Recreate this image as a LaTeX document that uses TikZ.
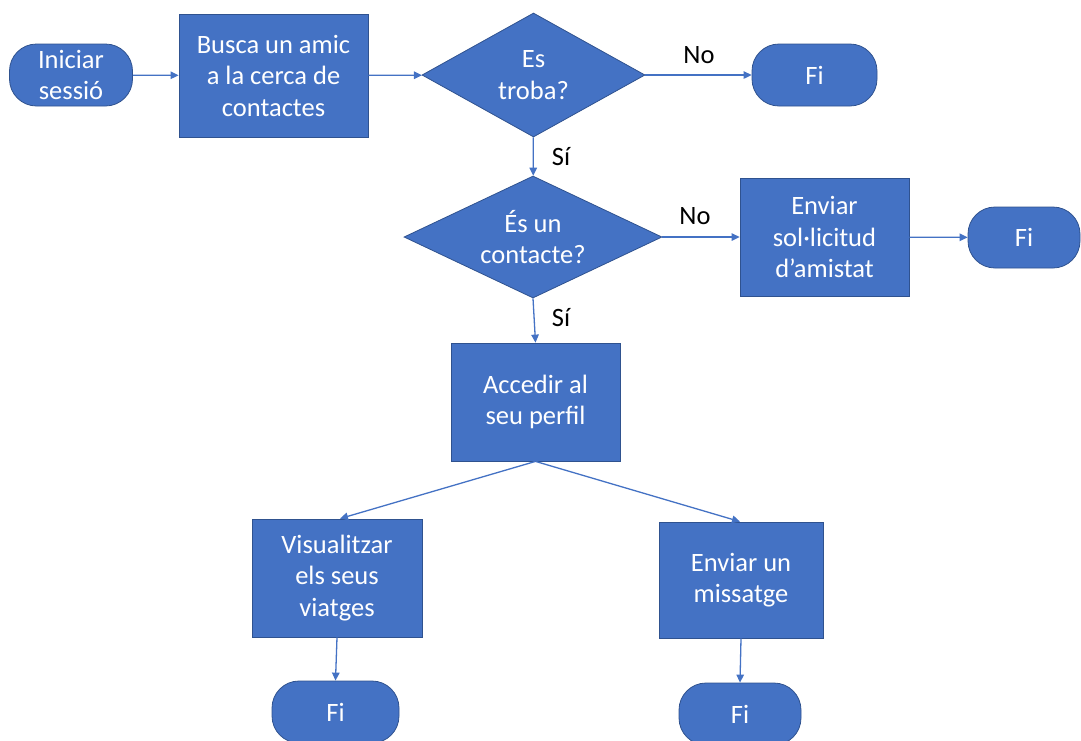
\documentclass[tikz,border=0pt]{standalone}
\usepackage{fontspec}
\setmainfont{Carlito}
\usetikzlibrary{shapes.geometric,arrows.meta}
\definecolor{boxfill}{HTML}{4472C4}
\definecolor{boxline}{HTML}{2F528F}
\definecolor{flow}{HTML}{4472C4}
\begin{document}
\begin{tikzpicture}[x=1pt,y=-1pt,
  font=\fontsize{26.5}{31.5}\selectfont,
  box/.style={rectangle, fill=boxfill, draw=boxline, line width=0.8pt,
    text=white, align=center, inner sep=0pt},
  term/.style={box, rounded corners=27pt},
  decision/.style={diamond, fill=boxfill, draw=boxline, line width=0.8pt,
    text=white, align=center, inner sep=0pt, shape aspect=2},
  flowarrow/.style={draw=flow, line width=1.3pt,
    -{Triangle[length=8pt,width=7.5pt]}},
  tag/.style={text=black}]
\clip (0,0) rectangle (1081,740);
\useasboundingbox (0,0) rectangle (1081,740);

% first row: log in, search, found?
\node[term, minimum width=123pt, minimum height=62pt] (start) at (71,75) {Iniciar\\sessió};
\node[box, minimum width=189pt, minimum height=123pt] (search) at (273.5,75.5) {Busca un amic\\a la cerca de\\contactes};
\node[decision, minimum width=223pt, minimum height=124pt] (found) at (533.5,75) {Es\\troba?};
\node[term, minimum width=125pt, minimum height=62pt] (end1) at (814.5,75) {Fi};

% second row: is a contact?
\node[decision, minimum width=258pt, minimum height=122pt] (contact) at (533,237) {És un\\contacte?};
\node[box, minimum width=169pt, minimum height=118pt] (request) at (824.5,237) {Enviar\\sol·licitud\\d’amistat};
\node[term, minimum width=112pt, minimum height=61pt] (end2) at (1024,237.5) {Fi};

% profile and its two actions
\node[box, minimum width=169pt, minimum height=118pt] (profile) at (535.5,402) {Accedir al\\seu perfil};
\node[box, minimum width=170pt, minimum height=118pt] (trips) at (337,578) {Visualitzar\\els seus\\viatges};
\node[box, minimum width=164pt, minimum height=116pt] (message) at (741,580) {Enviar un\\missatge};
\node[term, minimum width=127pt, minimum height=62pt] (end3) at (335.5,712) {Fi};
\node[term, minimum width=122pt, minimum height=62pt] (end4) at (740,714) {Fi};

% branch labels
\node[tag] (no1) at (699,55) {No};
\node[tag] (yes1) at (561,157) {Sí};
\node[tag] (no2) at (695,216) {No};
\node[tag] (yes2) at (561,318) {Sí};

% connectors
\draw[flowarrow] (start) -- (search);
\draw[flowarrow] (search) -- (found);
\draw[flowarrow] (found) -- (end1);
\draw[flowarrow] (found) -- (contact);
\draw[flowarrow] (contact) -- (request);
\draw[flowarrow] (request) -- (end2);
\draw[flowarrow] (contact.south) -- (profile.north);
\draw[flowarrow] (profile.south) -- ([xshift=3pt]trips.north);
\draw[flowarrow] (profile.south) -- ([xshift=-1pt]message.north);
\draw[flowarrow] (trips.south) -- (end3.north);
\draw[flowarrow] (message.south) -- (end4.north);
\end{tikzpicture}
\end{document}
